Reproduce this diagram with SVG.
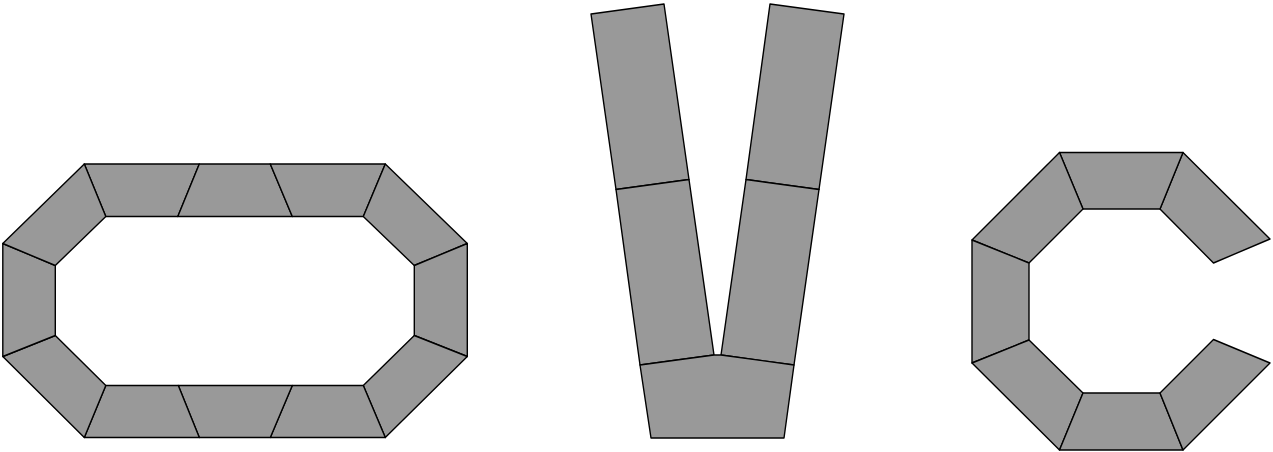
<svg xmlns="http://www.w3.org/2000/svg" width="1273" height="452" viewBox="0 0 1273 452">
<style>polygon{fill:#999;stroke:#000;stroke-width:1.4;stroke-linejoin:round}</style>
<rect width="1273" height="452" fill="#fff"/>
<g id="letter-o" transform="translate(0.3,0.5)">
<polygon points="84,163.5 199,163.5 177.5,216 105.5,216"/>
<polygon points="199,163.5 270,163.5 292,216 177.5,216"/>
<polygon points="270,163.5 385,163.5 363,216 292,216"/>
<polygon points="385,163.5 467,243 414,265 363,216"/>
<polygon points="467,243 467,356 414,335 414,265"/>
<polygon points="467,356 385,437 363,385 414,335"/>
<polygon points="385,437 270,437 292,385 363,385"/>
<polygon points="270,437 199,437 178,385 292,385"/>
<polygon points="199,437 84,437 105.5,385 178,385"/>
<polygon points="84,437 2.5,356 55,335 105.5,385"/>
<polygon points="2.5,356 2.5,243 55,265 55,335"/>
<polygon points="2.5,243 84,163.5 105.5,216 55,265"/>
</g>
<g id="letter-v">
<polygon points="591,14 664,4 689,179.5 616,189.5"/>
<polygon points="616,189.5 689,179.5 714,355 640,365"/>
<polygon points="770,4 844,14 819,189.5 746,179.5"/>
<polygon points="746,179.5 819,189.5 794,365 721,355"/>
<polygon points="640,365 714,355 721,355 794,365 784,438 651,438"/>
</g>
<g id="letter-c">
<polygon points="1183,152.5 1270,239 1213.5,263 1160,209"/>
<polygon points="1059.5,152.5 1183,152.5 1160,209 1083,209"/>
<polygon points="972,240 1059.5,152.5 1083,209 1029,263"/>
<polygon points="972,363 972,240 1029,263 1029,340"/>
<polygon points="1059.5,450 972,363 1029,340 1083,393"/>
<polygon points="1183,450 1059.5,450 1083,393 1160,393"/>
<polygon points="1270,363 1183,450 1160,393 1213.5,339.5"/>
</g>
</svg>
